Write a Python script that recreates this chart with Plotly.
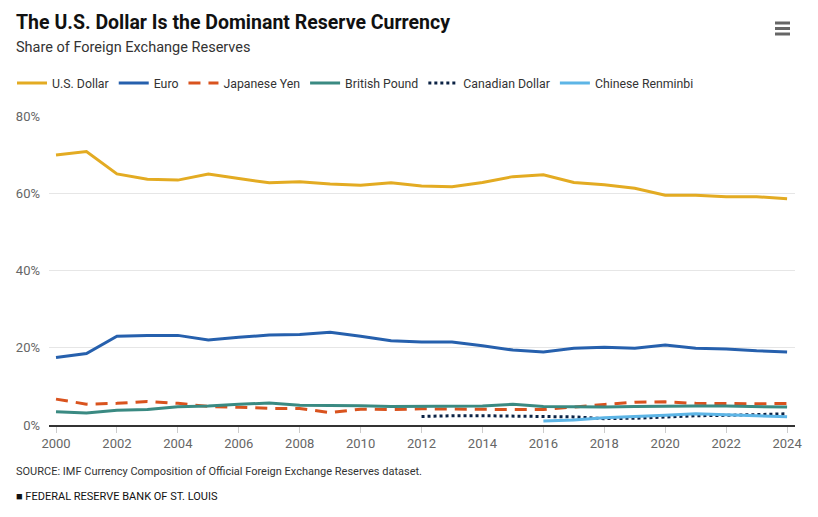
import plotly.graph_objects as go

years = list(range(2000, 2025))
usd = [69.9, 70.8, 65.0, 63.6, 63.4, 65.0, 63.8, 62.7, 63.0, 62.4, 62.1, 62.7, 61.9,
       61.7, 62.8, 64.3, 64.8, 62.8, 62.2, 61.3, 59.5, 59.5, 59.1, 59.1, 58.6]
euro = [17.5, 18.5, 23.0, 23.2, 23.2, 22.0, 22.7, 23.3, 23.4, 24.0, 23.0, 21.8, 21.5,
        21.5, 20.5, 19.4, 18.9, 19.9, 20.1, 19.9, 20.7, 19.9, 19.7, 19.2, 18.9]
jpy = [6.7, 5.4, 5.6, 6.1, 5.6, 4.8, 4.6, 4.3, 4.3, 3.2, 4.1, 4.0, 4.2,
       4.1, 4.1, 4.0, 4.0, 4.7, 5.3, 5.9, 6.0, 5.6, 5.5, 5.5, 5.6]
gbp = [3.45, 3.1, 3.8, 4.0, 4.75, 4.9, 5.35, 5.7, 5.1, 5.1, 5.0, 4.8, 4.8,
       4.75, 4.9, 5.35, 4.8, 4.75, 4.65, 4.8, 4.9, 4.9, 4.9, 4.8, 4.65]
cad = [None] * 12 + [2.2, 2.4, 2.4, 2.3, 2.2, 2.1, 1.65, 1.75, 2.05, 2.4, 2.5, 2.75, 2.9]
cny = [None] * 16 + [1.05, 1.3, 1.9, 2.15, 2.5, 2.9, 2.7, 2.4, 2.15]

series_names = ["U.S. Dollar", "Euro", "Japanese Yen", "British Pound", "Canadian Dollar", "Chinese Renminbi"]
series_values = [usd, euro, jpy, gbp, cad, cny]
series_colors = ["#E3AB22", "#2660AD", "#D9531E", "#3A8A82", "#0B2244", "#5DB5E6"]
series_dash = ["solid", "solid", "12px,8px", "solid", "3px,3px", "solid"]

x_ticks = list(range(2000, 2025, 2))
y_ticks = [0, 20, 40, 60, 80]
y_tick_labels = ["0%", "20%", "40%", "60%", "80%"]

title_text = "The U.S. Dollar Is the Dominant Reserve Currency"
subtitle_text = "Share of Foreign Exchange Reserves"
source_text = "SOURCE: IMF Currency Composition of Official Foreign Exchange Reserves dataset."
credit_text = "■ FEDERAL RESERVE BANK OF ST. LOUIS"

W, H = 818, 517
ML, MR, MT, MB = 49, 23, 116, 92
PW, PH = W - ML - MR, H - MT - MB


def px_x(x):
    return (x - ML) / PW


def px_y(y):
    return (H - MB - y) / PH


FONT = "Roboto, Arial, sans-serif"

fig = go.Figure()
for name, vals, col, dash in zip(series_names, series_values, series_colors, series_dash):
    fig.add_trace(go.Scatter(
        x=years, y=vals, name=name, mode="lines",
        line=dict(color=col, width=3, dash=dash),
        connectgaps=False,
    ))

fig.update_layout(
    width=W, height=H,
    margin=dict(l=ML, r=MR, t=MT, b=MB, pad=0),
    paper_bgcolor="white", plot_bgcolor="white",
    font=dict(family=FONT, size=12, color="#333333"),
    showlegend=True,
    legend=dict(
        orientation="h", x=px_x(12), xanchor="left", y=px_y(83), yanchor="middle",
        font=dict(family=FONT, size=12.3, color="#333333"),
        bgcolor="rgba(0,0,0,0)", itemwidth=30, traceorder="normal",
    ),
    xaxis=dict(
        range=[1999.77, 2024.26], tickmode="array", tickvals=x_ticks,
        showgrid=False, zeroline=False,
        showline=True, linecolor="#333333", linewidth=1.5,
        ticks="outside", ticklen=6, tickcolor="#cccccc", tickwidth=1,
        tickfont=dict(family=FONT, size=13, color="#666666"),
        fixedrange=True,
    ),
    yaxis=dict(
        range=[0, 80], tickmode="array", tickvals=y_ticks, ticktext=y_tick_labels,
        showgrid=True, gridcolor="#e6e6e6", gridwidth=1, zeroline=False,
        showline=False, ticks="", ticklabelstandoff=8,
        tickfont=dict(family=FONT, size=13, color="#666666"),
        fixedrange=True,
    ),
    title=dict(
        text="<b>" + title_text + "</b>", xref="container", yref="container",
        x=16 / W, xanchor="left", y=1 - 22 / H, yanchor="middle",
        font=dict(family=FONT, size=19.5, color="#111111"),
    ),
    annotations=[
        dict(text=subtitle_text, xref="paper", yref="paper", x=px_x(14), y=px_y(48),
             xanchor="left", yanchor="middle", showarrow=False,
             font=dict(family=FONT, size=14.5, color="#333333")),
        dict(text=source_text, xref="paper", yref="paper", x=px_x(14), y=px_y(471),
             xanchor="left", yanchor="middle", showarrow=False,
             font=dict(family=FONT, size=11, color="#333333")),
        dict(text=credit_text, xref="paper", yref="paper", x=px_x(14), y=px_y(497),
             xanchor="left", yanchor="middle", showarrow=False,
             font=dict(family=FONT, size=11, color="#111111")),
    ],
    shapes=[
        dict(type="line", xref="paper", yref="paper", x0=px_x(775), x1=px_x(790),
             y0=px_y(yy), y1=px_y(yy), line=dict(color="#666666", width=3))
        for yy in (23, 28.5, 34)
    ],
)

fig.write_html("out.html", config={"displayModeBar": False},
               post_script="document.body.style.margin='0';")
